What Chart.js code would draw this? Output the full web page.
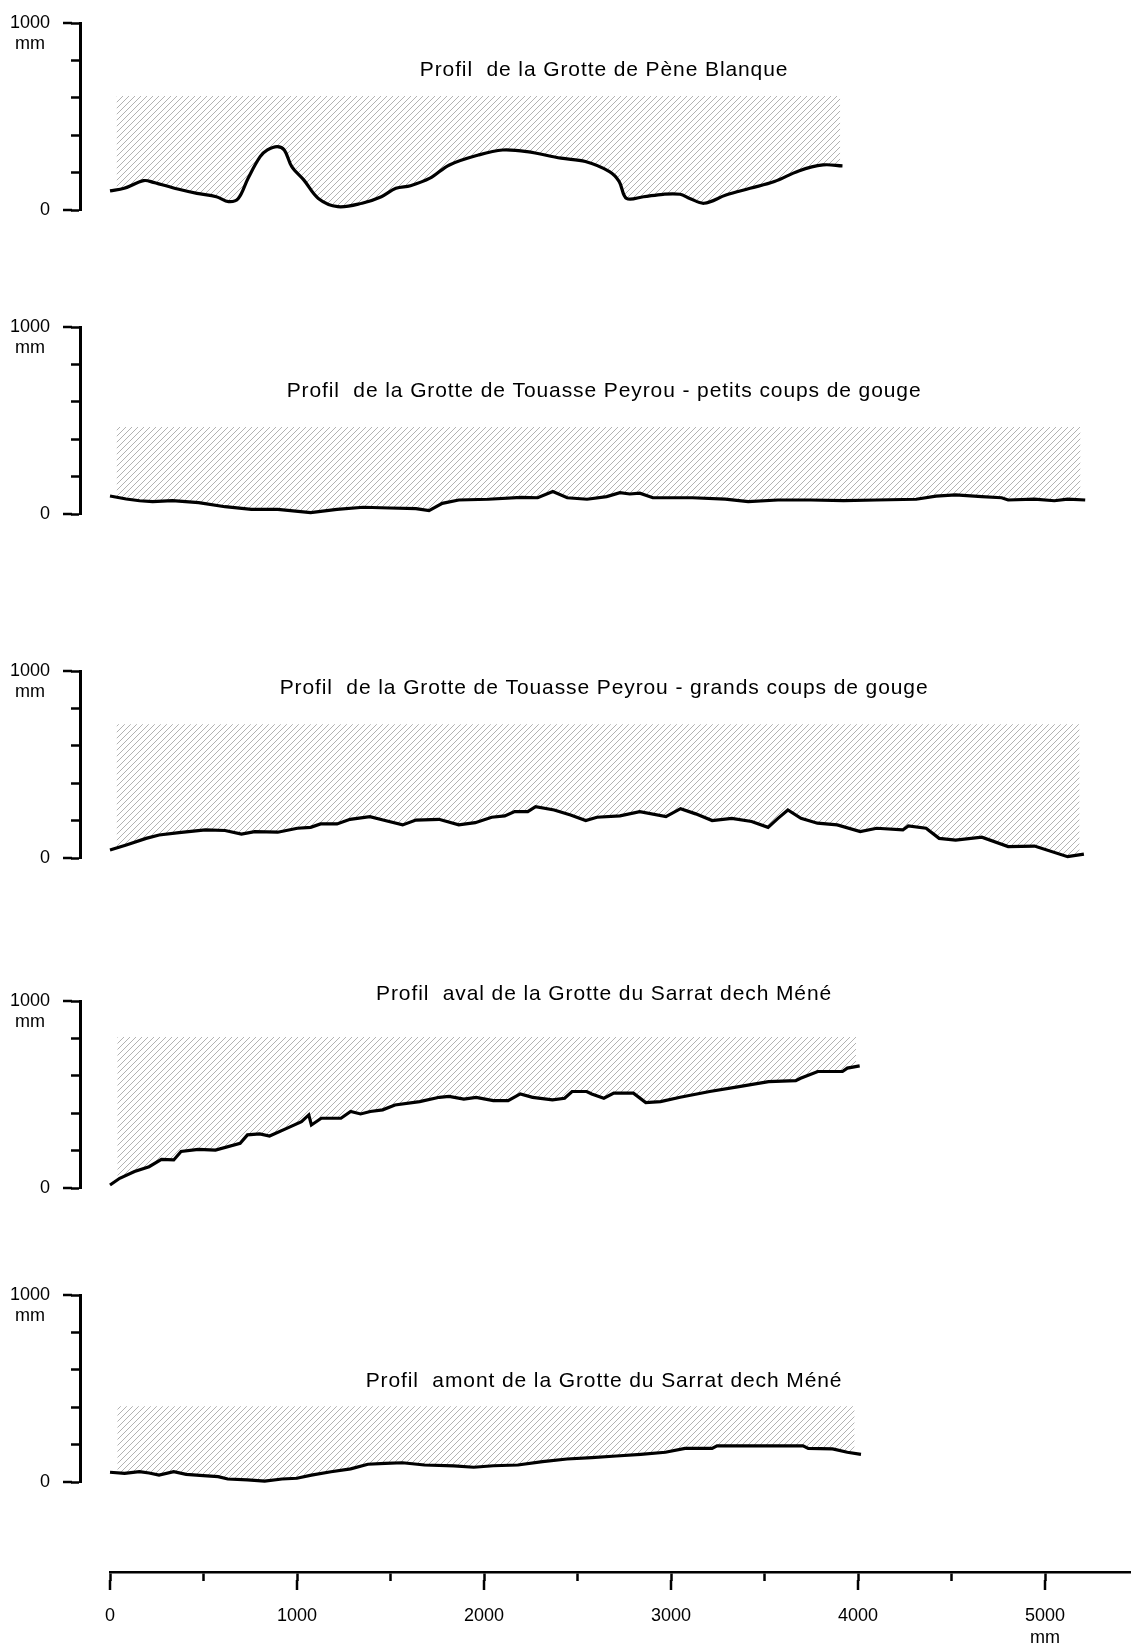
<!DOCTYPE html>
<html>
<head>
<meta charset="utf-8">
<script src="https://cdn.jsdelivr.net/npm/chart.js@4.4.1/dist/chart.umd.min.js"></script>
<style>
  body { margin: 0; background: #fff; width: 1131px; height: 1645px; position: relative; overflow: hidden; }
  canvas { position: absolute; left: 0; }
</style>
</head>
<body>
<canvas id="p0"></canvas>
<canvas id="p1"></canvas>
<canvas id="p2"></canvas>
<canvas id="p3"></canvas>
<canvas id="p4"></canvas>
<canvas id="axis"></canvas>
<script>
// profils (x et y en mm)
const peneX = [0, 76, 180, 232, 362, 465, 569, 634, 686, 738, 803, 842, 894, 932, 972, 1036, 1114, 1218, 1348, 1451, 1529, 1607, 1711, 1815, 1970, 2100, 2230, 2412, 2542, 2671, 2723, 2762, 2853, 2957, 3048, 3100, 3177, 3294, 3423, 3553, 3683, 3813, 3917];
const peneY = [102, 116, 157, 148, 112, 89, 71, 45, 62, 169, 285, 321, 339, 321, 232, 161, 62, 18, 36, 71, 116, 130, 170, 241, 294, 321, 312, 277, 259, 205, 152, 62, 71, 84, 84, 62, 36, 80, 116, 152, 209, 241, 236];

const petitsX = [0, 87, 158, 228, 334, 474, 615, 756, 897, 1073, 1214, 1354, 1495, 1636, 1706, 1777, 1865, 2023, 2199, 2287, 2368, 2445, 2551, 2656, 2727, 2780, 2833, 2903, 3114, 3290, 3413, 3572, 3748, 3923, 4100, 4311, 4417, 4522, 4662, 4768, 4803, 4944, 5050, 5121, 5215];
const petitsY = [96, 80, 71, 66, 71, 61, 39, 25, 25, 7, 25, 36, 32, 29, 18, 57, 75, 79, 89, 87, 120, 87, 79, 93, 114, 107, 111, 87, 87, 80, 66, 75, 75, 71, 75, 79, 96, 102, 93, 87, 75, 80, 71, 80, 75];

const grandsX = [0, 87, 193, 263, 369, 510, 615, 703, 774, 897, 1002, 1073, 1126, 1214, 1284, 1390, 1460, 1565, 1636, 1759, 1865, 1953, 2041, 2111, 2164, 2234, 2276, 2375, 2463, 2544, 2604, 2727, 2833, 2973, 3051, 3132, 3220, 3325, 3431, 3519, 3572, 3625, 3695, 3783, 3889, 4012, 4100, 4240, 4269, 4364, 4434, 4522, 4662, 4803, 4944, 5121, 5208];
const grandsY = [43, 70, 105, 123, 136, 150, 147, 128, 141, 138, 159, 164, 182, 182, 207, 221, 203, 177, 203, 207, 177, 189, 218, 225, 248, 248, 275, 257, 230, 200, 218, 225, 248, 221, 264, 236, 200, 212, 195, 164, 212, 257, 212, 186, 177, 141, 159, 150, 171, 159, 105, 96, 111, 61, 64, 7, 21];

const avalX = [0, 52, 131, 209, 275, 341, 380, 472, 564, 696, 735, 801, 853, 945, 1024, 1063, 1077, 1130, 1235, 1287, 1340, 1392, 1458, 1524, 1656, 1761, 1813, 1892, 1958, 2050, 2129, 2194, 2260, 2366, 2431, 2471, 2549, 2576, 2641, 2694, 2799, 2865, 2944, 3049, 3207, 3364, 3522, 3667, 3693, 3785, 3917, 3943, 4009];
const avalY = [16, 52, 88, 114, 153, 150, 195, 207, 203, 239, 284, 289, 278, 319, 355, 391, 337, 373, 373, 409, 396, 409, 418, 444, 462, 485, 490, 475, 485, 467, 467, 503, 485, 471, 480, 516, 516, 503, 480, 507, 507, 457, 462, 485, 516, 542, 569, 574, 587, 623, 623, 641, 653];

const amontX = [0, 78, 157, 209, 262, 341, 407, 499, 578, 630, 735, 827, 920, 999, 1077, 1182, 1287, 1379, 1471, 1564, 1682, 1839, 1945, 2050, 2181, 2313, 2444, 2576, 2707, 2838, 2970, 3075, 3220, 3246, 3443, 3706, 3734, 3864, 3943, 4016];
const amontY = [52, 46, 55, 48, 37, 55, 41, 34, 29, 16, 11, 5, 16, 20, 37, 55, 70, 95, 100, 103, 91, 86, 79, 87, 91, 109, 123, 130, 139, 148, 159, 180, 180, 193, 193, 193, 180, 177, 159, 148];

const titles = [
  'Profil  de la Grotte de Pène Blanque',
  'Profil  de la Grotte de Touasse Peyrou - petits coups de gouge',
  'Profil  de la Grotte de Touasse Peyrou - grands coups de gouge',
  'Profil  aval de la Grotte du Sarrat dech Méné',
  'Profil  amont de la Grotte du Sarrat dech Méné'
];
const titleX = 2642;
const titleY = [747, 657, 909, 1039, 541];

// zone hachurée : sommet et étendue (mm)
const hatchTop = [610, 465, 715, 808, 405];
const hatchFrom = [35, 35, 35, 39, 39];
const hatchTo = [3905, 5190, 5185, 3990, 3982];

const yTicks = [0, 200, 400, 600, 800, 1000];
const yLabelled = [0, 1000];
const xTicks = [0, 500, 1000, 1500, 2000, 2500, 3000, 3500, 4000, 4500, 5000];
const xLabelled = [0, 1000, 2000, 3000, 4000, 5000];

const profiles = [[peneX, peneY], [petitsX, petitsY], [grandsX, grandsY], [avalX, avalY], [amontX, amontY]];

// mise en page
const PX_PER_MM = 0.187;
const Y0 = [210, 514, 858, 1188, 1482];
const PLOT_H = 187;
const PAD = 20;
const AXIS_LEFT = 80;
const X0_PX = 110;
const X_MIN = -(X0_PX - AXIS_LEFT) / PX_PER_MM;
const X_MAX = X_MIN + (1131 - AXIS_LEFT) / PX_PER_MM;
const FONT = '"Liberation Sans", Arial, sans-serif';

function hatchPattern() {
  const s = 6;
  const c = document.createElement('canvas');
  c.width = s; c.height = s;
  const g = c.getContext('2d');
  g.strokeStyle = 'rgba(0,0,0,0.38)';
  g.lineWidth = 0.8;
  g.beginPath();
  g.moveTo(0, s); g.lineTo(s, 0);
  g.moveTo(-1, 1); g.lineTo(1, -1);
  g.moveTo(s - 1, s + 1); g.lineTo(s + 1, s - 1);
  g.stroke();
  return g.createPattern(c, 'repeat');
}

function interp(xs, ys, v) {
  for (let i = 1; i < xs.length; i++) {
    if (xs[i] >= v) {
      const t = (v - xs[i - 1]) / (xs[i] - xs[i - 1]);
      return ys[i - 1] + t * (ys[i] - ys[i - 1]);
    }
  }
  return ys[ys.length - 1];
}

function hatchPoints(xs, ys, a, b) {
  const pts = [{ x: a, y: interp(xs, ys, a) }];
  xs.forEach((x, i) => { if (x > a && x < b) pts.push({ x: x, y: ys[i] }); });
  pts.push({ x: b, y: interp(xs, ys, b) });
  return pts;
}

const extras = {
  id: 'extras',
  afterDraw(chart, args, opts) {
    const ctx = chart.ctx;
    const xs = chart.scales.x, ys = chart.scales.y;
    ctx.save();
    ctx.strokeStyle = '#000';
    ctx.fillStyle = '#000';
    ctx.lineWidth = 2.5;
    if (opts.panel !== undefined) {
      const left = chart.chartArea.left;
      yLabelled.forEach(v => {
        const py = ys.getPixelForValue(v);
        ctx.beginPath(); ctx.moveTo(left - 8, py); ctx.lineTo(left - 17, py); ctx.stroke();
      });
      ctx.font = '18px ' + FONT;
      ctx.textAlign = 'center';
      ctx.textBaseline = 'middle';
      const w = ctx.measureText('1000').width;
      ctx.fillText('mm', left - 30 - w / 2, ys.getPixelForValue(1000) + 21);
      ctx.font = '21px ' + FONT;
      ctx.letterSpacing = '0.9px';
      ctx.fillText(titles[opts.panel], xs.getPixelForValue(titleX), ys.getPixelForValue(titleY[opts.panel]));
    } else {
      const bottom = chart.chartArea.bottom;
      xLabelled.forEach(v => {
        const px = xs.getPixelForValue(v);
        ctx.beginPath(); ctx.moveTo(px, bottom + 8); ctx.lineTo(px, bottom + 18); ctx.stroke();
      });
      ctx.font = '18px ' + FONT;
      ctx.textAlign = 'center';
      ctx.textBaseline = 'middle';
      ctx.fillText('mm', xs.getPixelForValue(5000), bottom + 66);
    }
    ctx.restore();
  }
};

const pattern = hatchPattern();

profiles.forEach(([xs, ys], i) => {
  const cv = document.getElementById('p' + i);
  cv.width = 1131;
  cv.height = PLOT_H + 2 * PAD;
  cv.style.top = (Y0[i] - PLOT_H - PAD) + 'px';
  new Chart(cv, {
    type: 'line',
    data: {
      datasets: [
        {
          data: xs.map((x, k) => ({ x: x, y: ys[k] })),
          borderColor: '#000',
          borderWidth: 3.2,
          pointRadius: 0,
          tension: i === 0 ? 0.35 : 0,
          fill: false,
          clip: 8
        },
        {
          data: hatchPoints(xs, ys, hatchFrom[i], hatchTo[i]),
          borderWidth: 0,
          borderColor: 'rgba(0,0,0,0)',
          pointRadius: 0,
          tension: i === 0 ? 0.35 : 0,
          backgroundColor: pattern,
          fill: { value: hatchTop[i] },
          clip: 8
        }
      ]
    },
    options: {
      responsive: false,
      animation: false,
      devicePixelRatio: 1,
      layout: { padding: { top: PAD, bottom: PAD, left: 0, right: 0 } },
      scales: {
        x: { type: 'linear', min: X_MIN, max: X_MAX, bounds: 'data', display: false },
        y: {
          min: 0, max: 1000,
          bounds: 'data',
          afterBuildTicks: (scale) => { scale.ticks = yTicks.map(v => ({ value: v })); },
          afterFit: (scale) => {
            scale.width = AXIS_LEFT;
            scale.paddingTop = 0;
            scale.paddingBottom = 0;
          },
          border: { display: true, color: '#000', width: 3 },
          grid: { drawOnChartArea: false, color: '#000', tickColor: '#000', tickLength: 9, tickWidth: 2.5 },
          ticks: {
            autoSkip: false,
            padding: 21,
            color: '#000',
            font: { family: FONT, size: 18 },
            callback: (v) => (yLabelled.includes(v) ? String(v) : '')
          }
        }
      },
      plugins: { legend: { display: false }, tooltip: { enabled: false }, extras: { panel: i } }
    },
    plugins: [extras]
  });
});

// axe des x commun en bas
const ax = document.getElementById('axis');
ax.width = 1131;
ax.height = 105;
ax.style.top = '1540px';
new Chart(ax, {
  type: 'line',
  data: { datasets: [{ data: [], pointRadius: 0 }] },
  options: {
    responsive: false,
    animation: false,
    devicePixelRatio: 1,
    layout: { padding: { top: 0, bottom: 0, left: X0_PX, right: 0 } },
    scales: {
      x: {
        type: 'linear', min: 0, max: (1131 - X0_PX) / PX_PER_MM,
        bounds: 'data',
        afterBuildTicks: (scale) => { scale.ticks = xTicks.map(v => ({ value: v })); },
        afterFit: (scale) => {
          scale.height = 73;
          scale.paddingLeft = 0;
          scale.paddingRight = 0;
        },
        border: { display: true, color: '#000', width: 2.5 },
        grid: { drawOnChartArea: false, color: '#000', tickColor: '#000', tickLength: 9, tickWidth: 2.5 },
        ticks: {
          autoSkip: false,
          maxRotation: 0,
          padding: 24,
          color: '#000',
          font: { family: FONT, size: 18 },
          callback: (v) => (xLabelled.includes(v) ? String(v) : '')
        }
      },
      y: { display: false, min: 0, max: 1 }
    },
    plugins: { legend: { display: false }, tooltip: { enabled: false }, extras: {} }
  },
  plugins: [extras]
});
</script>
</body>
</html>
